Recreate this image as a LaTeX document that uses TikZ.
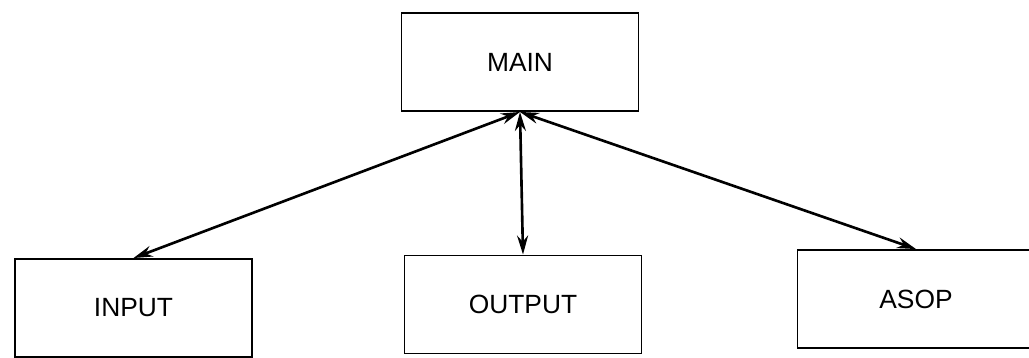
\documentclass[tikz,border=0pt]{standalone}
\usepackage{fontspec}
\setmainfont{Liberation Sans}
\usetikzlibrary{arrows.meta}
\tikzset{
  box/.style={draw, line width=1.1pt, minimum width=4.74cm, minimum height=1.96cm, inner sep=0pt, font=\fontsize{15}{18}\selectfont},
  link/.style={{Stealth[length=0.38cm,width=0.22cm]}-{Stealth[length=0.38cm,width=0.22cm]}, line width=1.5pt}
}
\begin{document}
\begin{tikzpicture}[x=0.02cm, y=-0.02cm]
\useasboundingbox (0,0) rectangle (1029,358);

\node[box] (main) at (520,62) {MAIN};
\node[box] (input) at (133.5,308) {INPUT};
\node[box] (output) at (523,304.5) {OUTPUT};
\node[box] (asop) at (916,299) {ASOP}; % right side runs off the page

\draw[link] (main.south) -- (input.north);
\draw[link] (main.south) -- (output.north);
\draw[link] (main.south) -- (asop.north);
\end{tikzpicture}
\end{document}
